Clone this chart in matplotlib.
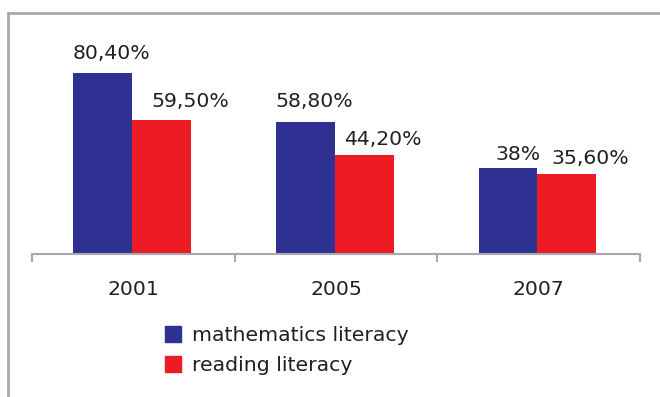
import matplotlib
matplotlib.use("Agg")
import matplotlib.pyplot as plt
from matplotlib.lines import Line2D
from matplotlib.patches import Patch

years = ["2001", "2005", "2007"]
math_lit = [80.4, 58.8, 38.0]
read_lit = [59.5, 44.2, 35.6]
math_labels = ["80,40%", "58,80%", "38%"]
read_labels = ["59,50%", "44,20%", "35,60%"]
series_names = ["mathematics literacy", "reading literacy"]

# label offsets in pixels (dx from bar centre, gap above bar top)
math_off = [(7, 14), (8, 15), (8.5, 8)]
read_off = [(28, 13), (17.5, 10), (22.5, 10)]

BLUE = "#2e3192"
RED = "#ed1c24"
GREY = "#a7a9ac"
TXT = "#231f20"
FS = 14.7

W, H = 660, 397
fig = plt.figure(figsize=(W / 100, H / 100), dpi=100)
ax = fig.add_axes([32 / W, 143 / H, 608 / W, 225.1 / H])

bw = 0.29
x = list(range(len(years)))
ax.bar([i - bw - 0.006 for i in x], math_lit, bw, align="edge", color=BLUE)
ax.bar([i - 0.006 for i in x], read_lit, bw, align="edge", color=RED)

for i in x:
    ax.annotate(math_labels[i], (i - bw / 2, math_lit[i]), xytext=math_off[i],
                textcoords="offset pixels", ha="center", va="baseline",
                fontsize=FS, color=TXT)
    ax.annotate(read_labels[i], (i + bw / 2, read_lit[i]), xytext=read_off[i],
                textcoords="offset pixels", ha="center", va="baseline",
                fontsize=FS, color=TXT)

ax.set_xlim(-0.5, 2.5)
ax.set_ylim(0, 100)
for s in ["top", "right", "left"]:
    ax.spines[s].set_visible(False)
ax.spines["bottom"].set_color(GREY)
ax.spines["bottom"].set_linewidth(1.5)
ax.set_yticks([])
ax.set_xticks(x)
ax.set_xticklabels(years, fontsize=FS, color=TXT)
ax.tick_params(axis="x", which="major", length=0, pad=18.5)
ax.set_xticks([-0.5, 0.5, 1.5, 2.5], minor=True)
ax.tick_params(axis="x", which="minor", length=5.8, width=1.5, color=GREY)

handles = [Patch(color=BLUE), Patch(color=RED)]
fig.legend(handles, series_names, loc="upper left",
           bbox_to_anchor=(165 / W, 1 - 326 / H), frameon=False,
           fontsize=FS, handlelength=0.78, handleheight=0.78,
           handletextpad=0.55, labelspacing=0.55, borderpad=0,
           borderaxespad=0, labelcolor=TXT)

# frame lines along the top and left edge
fig.add_artist(Line2D([8 / W, 1], [1 - 13 / H, 1 - 13 / H], color=GREY, lw=2))
fig.add_artist(Line2D([8 / W, 8 / W], [0, 1 - 13 / H], color=GREY, lw=2))

fig.savefig("out.png", dpi=100)
